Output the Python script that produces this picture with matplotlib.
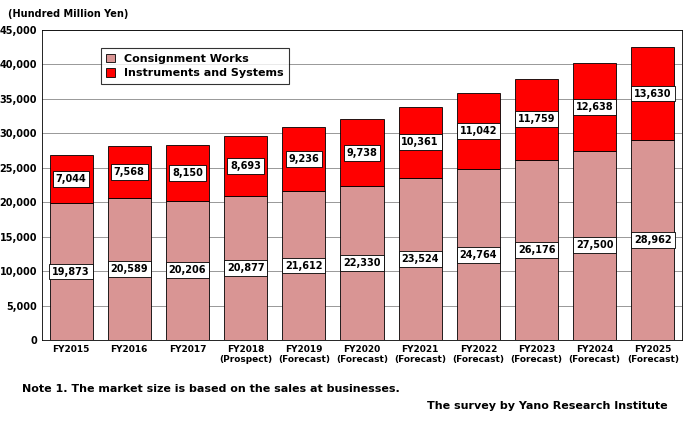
import matplotlib.pyplot as plt
import numpy as np

years = ['FY2015', 'FY2016', 'FY2017', 'FY2018\n(Prospect)', 'FY2019\n(Forecast)',
         'FY2020\n(Forecast)', 'FY2021\n(Forecast)', 'FY2022\n(Forecast)',
         'FY2023\n(Forecast)', 'FY2024\n(Forecast)', 'FY2025\n(Forecast)']
consignment = [19873, 20589, 20206, 20877, 21612, 22330, 23524, 24764, 26176, 27500, 28962]
instruments = [7044, 7568, 8150, 8693, 9236, 9738, 10361, 11042, 11759, 12638, 13630]

fig = plt.figure(figsize=(6.98, 4.24), dpi=100)
ax = fig.add_axes([42 / 698, 1 - 340 / 424, 640 / 698, 310 / 424])

x = np.arange(len(years))
w = 0.74
ax.bar(x, consignment, w, color='#D99594', edgecolor='black', linewidth=0.6,
       label='Consignment Works')
ax.bar(x, instruments, w, bottom=consignment, color='#FF0000', edgecolor='black',
       linewidth=0.6, label='Instruments and Systems')

box = dict(boxstyle='square,pad=0.3', fc='white', ec='black', lw=0.6)
for i in range(len(x)):
    ax.text(x[i], consignment[i] / 2, f'{consignment[i]:,}', ha='center', va='center',
            fontsize=7, fontweight='bold', bbox=box)
    ax.text(x[i], consignment[i] + instruments[i] / 2, f'{instruments[i]:,}', ha='center',
            va='center', fontsize=7, fontweight='bold', bbox=box)

ax.set_xlim(-0.5, len(x) - 0.5)
ax.set_ylim(0, 45000)
ax.set_yticks(range(0, 45001, 5000))
ax.set_yticklabels([f'{v:,}' for v in range(0, 45001, 5000)], fontsize=7, fontweight='bold')
ax.set_xticks(x)
ax.set_xticklabels(years, fontsize=6.5, fontweight='bold')
ax.tick_params(length=0)
ax.grid(axis='y', color='#888888', linewidth=0.6)
ax.set_axisbelow(True)
for s in ax.spines.values():
    s.set_linewidth(0.6)

leg = ax.legend(loc='upper left', bbox_to_anchor=(0.083, 0.96), fancybox=False,
                edgecolor='black', prop={'weight': 'bold', 'size': 8},
                handlelength=0.8, handleheight=0.8, borderpad=0.5, labelspacing=0.4)
leg.get_frame().set_linewidth(0.8)

fig.text(8 / 698, 1 - 14 / 424, '(Hundred Million Yen)', fontsize=7, fontweight='bold', va='center')
fig.text(22 / 698, 1 - 389 / 424, 'Note 1. The market size is based on the sales at businesses.',
         fontsize=8, fontweight='bold', va='center')
fig.text(668 / 698, 1 - 406 / 424, 'The survey by Yano Research Institute',
         fontsize=8, fontweight='bold', va='center', ha='right')

fig.savefig('out.png', dpi=100)
